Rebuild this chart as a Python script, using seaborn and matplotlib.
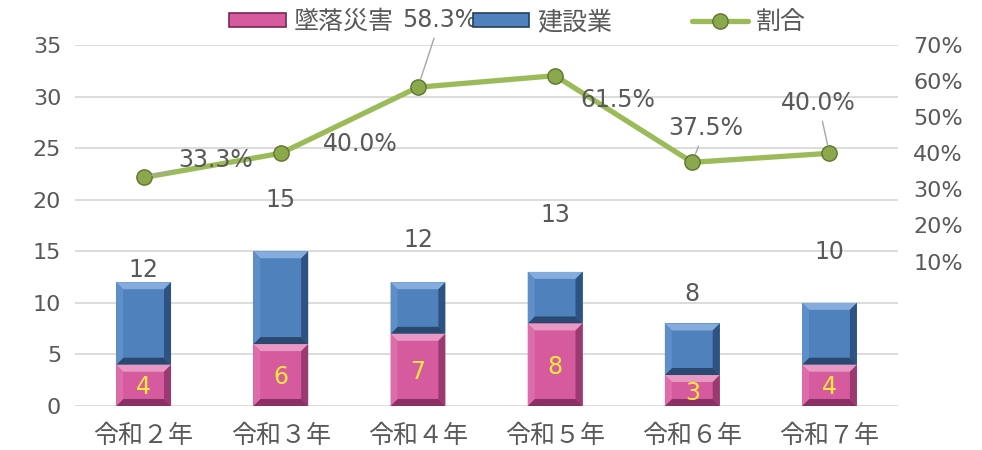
import numpy as np
import pandas as pd
import matplotlib
matplotlib.use("Agg")
import matplotlib.pyplot as plt
import seaborn as sns
from matplotlib.patches import Polygon, Patch
from matplotlib.lines import Line2D

# ---- data ----
years = ["令和２年", "令和３年", "令和４年", "令和５年", "令和６年", "令和７年"]
fall = [4, 6, 7, 8, 3, 4]                 # 墜落災害
construction = [12, 15, 12, 13, 8, 10]    # 建設業 (total)
ratio = [33.3, 40.0, 58.3, 61.5, 37.5, 40.0]  # 割合 (%)
series_names = ["墜落災害", "建設業", "割合"]
ratio_ticks = [10, 20, 30, 40, 50, 60, 70]

# ---- style ----
sns.set_theme(style="white")
plt.rcParams['font.family'] = ['DejaVu Sans', 'Noto Sans CJK JP']

GRAY = '#595959'
PINK = '#D65A9E'
BLUE = '#4F81BD'
GREEN = '#9BBB59'
YELLOW = '#F7EA3A'

fig = plt.figure(figsize=(9.82, 4.5), dpi=100)
ax = fig.add_axes([0.0764, 0.0978, 0.8381, 0.8022])

df = pd.DataFrame({"year": years, "fall": fall, "total": construction})
sns.barplot(data=df, x="year", y="total", color=BLUE, width=0.4, saturation=1,
            errorbar=None, ax=ax, zorder=2, linewidth=0)
sns.barplot(data=df, x="year", y="fall", color=PINK, width=0.4, saturation=1,
            errorbar=None, ax=ax, zorder=3, linewidth=0)

ax.set_ylim(0, 35)
ax.set_xlim(-0.5, 5.5)
ax.set_yticks(range(0, 36, 5))
ax.set_xlabel("")
ax.set_ylabel("")
ax.yaxis.grid(True, color='#D9D9D9', lw=1.3)
ax.set_axisbelow(True)
for s in ax.spines.values():
    s.set_visible(False)
ax.tick_params(axis='y', length=0, labelsize=16, labelcolor=GRAY, pad=10)
ax.tick_params(axis='x', length=0, labelsize=18, labelcolor=GRAY, pad=13)

# ---- ratio line on secondary axis ----
ax2 = ax.twinx()
sns.lineplot(x=np.arange(len(years)), y=ratio, ax=ax2, color=GREEN, lw=3.8,
             marker='o', markersize=11, markerfacecolor='#8CA84C',
             markeredgecolor='#5E7430', markeredgewidth=1.0, zorder=5)
ax2.set_ylim(-30, 70)
ax2.set_yticks(ratio_ticks)
ax2.set_yticklabels([f"{t}%" for t in ratio_ticks])
ax2.set_ylabel("")
for s in ax2.spines.values():
    s.set_visible(False)
ax2.tick_params(axis='y', length=0, labelsize=16, labelcolor=GRAY, pad=11)
ax2.set_xlim(-0.5, 5.5)

# ratio labels (offsets in pixels) and leader lines
r_offsets = [(72, 17), (79, 9), (22, 67), (63, -24), (13, 34), (-11, 50)]
r_leader = [True, False, True, False, True, True]
for i, r in enumerate(ratio):
    kw = {}
    if r_leader[i]:
        kw['arrowprops'] = dict(arrowstyle='-', color='#A6A6A6', lw=1.0,
                                shrinkA=2, shrinkB=6)
    ax2.annotate(f"{r:.1f}%", xy=(i, r), xytext=r_offsets[i],
                 textcoords='offset pixels', ha='center', va='center',
                 fontsize=17, color=GRAY, zorder=10, annotation_clip=False, **kw)

# bar total labels
t_offsets = [12, 51, 42, 57, 29, 51]
for i, t in enumerate(construction):
    ax.annotate(str(t), xy=(i, t), xytext=(0, t_offsets[i]),
                textcoords='offset pixels', ha='center', va='center',
                fontsize=17, color=GRAY, zorder=10)

# pink segment labels
for i, v in enumerate(fall):
    ax.annotate(str(v), xy=(i, v / 2), xytext=(0, -2), textcoords='offset pixels',
                ha='center', va='center', fontsize=17, color=YELLOW, zorder=10)

# ---- bevel effect on bars ----
inv = ax.transData.inverted()
BEV = 7
def bevel(x0, x1, y0, y1, cols):
    X0, Y0 = ax.transData.transform((x0, y0))
    X1, Y1 = ax.transData.transform((x1, y1))
    b = min(BEV, (Y1 - Y0) / 2.5)
    A, B, C, D = (X0, Y0), (X1, Y0), (X1, Y1), (X0, Y1)
    a, bb, c, d = (X0 + b, Y0 + b), (X1 - b, Y0 + b), (X1 - b, Y1 - b), (X0 + b, Y1 - b)
    polys = [(D, C, c, d), (A, B, bb, a), (A, D, d, a), (B, C, c, bb)]
    for poly, col in zip(polys, cols):
        pts = inv.transform(np.array(poly))
        ax.add_patch(Polygon(pts, closed=True, facecolor=col, edgecolor='none', zorder=4))

blue_cols = ['#84ADDE', '#2A4870', '#5F8FC8', '#2E5282']
pink_cols = ['#E898C4', '#8A3064', '#DC6DAA', '#9A3A70']
bars = ax.patches[:]
n = len(years)
for i in range(n):
    rb = bars[i]
    rp = bars[n + i]
    x0 = rb.get_x(); x1 = x0 + rb.get_width()
    bevel(x0, x1, fall[i], construction[i], blue_cols)
    x0p = rp.get_x(); x1p = x0p + rp.get_width()
    bevel(x0p, x1p, 0, fall[i], pink_cols)

# ---- legend ----
handles = [Patch(facecolor=PINK, edgecolor='#7A2656', lw=1.2),
           Patch(facecolor=BLUE, edgecolor='#243F60', lw=1.2),
           Line2D([0], [0], color=GREEN, lw=3.8, marker='o', markersize=11,
                  markerfacecolor='#8CA84C', markeredgecolor='#5E7430')]
leg = fig.legend(handles, series_names, loc='center', bbox_to_anchor=(0.527, 0.951),
                 ncol=3, frameon=False, fontsize=18, handlelength=2.25,
                 handleheight=0.5, columnspacing=3.2, handletextpad=0.3,
                 labelcolor=GRAY)

fig.savefig("out.png", dpi=100)
